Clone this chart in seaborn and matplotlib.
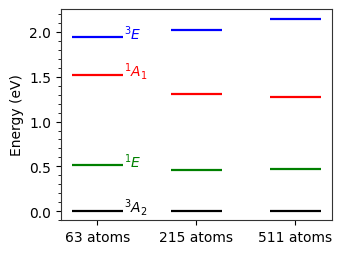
import numpy as np
import matplotlib
matplotlib.use('Agg')
import matplotlib.pyplot as plt
import seaborn as sns
from matplotlib.ticker import AutoMinorLocator

# supercell sizes and level energies (eV)
cells = ['63 atoms', '215 atoms', '511 atoms']
e_3A2 = [0.0, 0.0, 0.0]
e_1E  = [0.514, 0.458, 0.466]
e_1A1 = [1.523, 1.304, 1.270]
e_3E  = [1.944, 2.022, 2.149]

levels = [
    ('$^3A_2$', e_3A2, 'black'),
    ('$^1E$',   e_1E,  'green'),
    ('$^1A_1$', e_1A1, 'red'),
    ('$^3E$',   e_3E,  'blue'),
]

sns.set_style('ticks', rc={
    'axes.edgecolor': '#333333',
    'text.color': 'black',
    'axes.labelcolor': 'black',
    'xtick.color': 'black',
    'ytick.color': 'black',
})
plt.rcParams['font.family'] = ['DejaVu Sans']

fig = plt.figure(figsize=(3.42, 2.55), dpi=100)
ax = fig.add_axes([0.178, 0.133, 0.793, 0.828])

x = np.arange(len(cells))
half = 0.26
for name, vals, color in levels:
    ax.hlines(vals, x - half, x + half, colors=color, lw=1.6)
    ax.text(x[0] + half + 0.01, vals[0] + 0.05, name, color=color,
            fontsize=10, va='center', ha='left')

ax.set_xticks(x)
ax.set_xticklabels(cells, fontsize=10)
ax.set_xlim(-0.37, 2.37)
ax.set_ylim(-0.1, 2.257)
ax.yaxis.set_minor_locator(AutoMinorLocator(5))
ax.tick_params(axis='y', labelsize=10)
ax.set_ylabel('Energy (eV)', fontsize=10)

fig.savefig('out.png', dpi=100)
